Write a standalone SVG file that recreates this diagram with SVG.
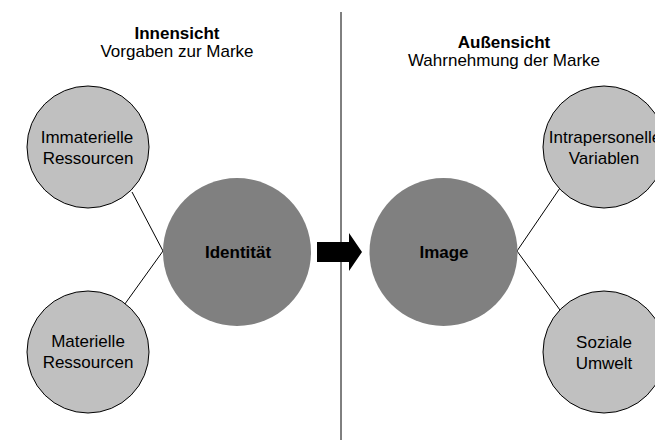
<svg xmlns="http://www.w3.org/2000/svg" width="655" height="445" viewBox="0 0 655 445">
<style>
text{font-family:"Liberation Sans",Arial,sans-serif;font-size:17px;fill:#000;text-anchor:middle}
.b{font-weight:bold}
.small{fill:#c0c0c0;stroke:#000;stroke-width:1}
.big{fill:#808080;stroke:none}
.ln{stroke:#000;stroke-width:1;fill:none}
</style>
<rect width="655" height="445" fill="#fff"/>
<g id="divider"><line class="ln" x1="341" y1="12" x2="341" y2="440"/></g>
<g id="headers">
<text class="b" x="177" y="39">Innensicht</text>
<text x="177" y="57">Vorgaben zur Marke</text>
<text class="b" x="504" y="48">Außensicht</text>
<text x="504" y="66">Wahrnehmung der Marke</text>
</g>
<g id="connectors">
<line class="ln" x1="132" y1="192" x2="163" y2="251"/>
<line class="ln" x1="122" y1="308" x2="163" y2="251"/>
<line class="ln" x1="517" y1="251" x2="560" y2="188"/>
<line class="ln" x1="517" y1="251" x2="560" y2="310"/>
<path d="M317 242 H349 V233 L362 252 L349 271 V262 H317 Z" fill="#000"/>
</g>
<g id="immaterielle"><circle class="small" cx="88" cy="147" r="61"/><text x="87" y="143">Immaterielle</text><text x="88" y="164">Ressourcen</text></g>
<g id="materielle"><circle class="small" cx="88" cy="352" r="61"/><text x="88" y="347">Materielle</text><text x="88" y="368">Ressourcen</text></g>
<g id="identitaet"><circle class="big" cx="237" cy="252" r="74"/><text class="b" x="238" y="258">Identität</text></g>
<g id="image"><circle class="big" cx="443.5" cy="252" r="74"/><text class="b" x="444" y="258">Image</text></g>
<g id="intrapersonelle"><circle class="small" cx="604" cy="147" r="61"/><text x="605" y="143">Intrapersonelle</text><text x="604" y="164">Variablen</text></g>
<g id="soziale"><circle class="small" cx="604" cy="352" r="61"/><text x="604" y="348">Soziale</text><text x="604" y="369">Umwelt</text></g>
</svg>
